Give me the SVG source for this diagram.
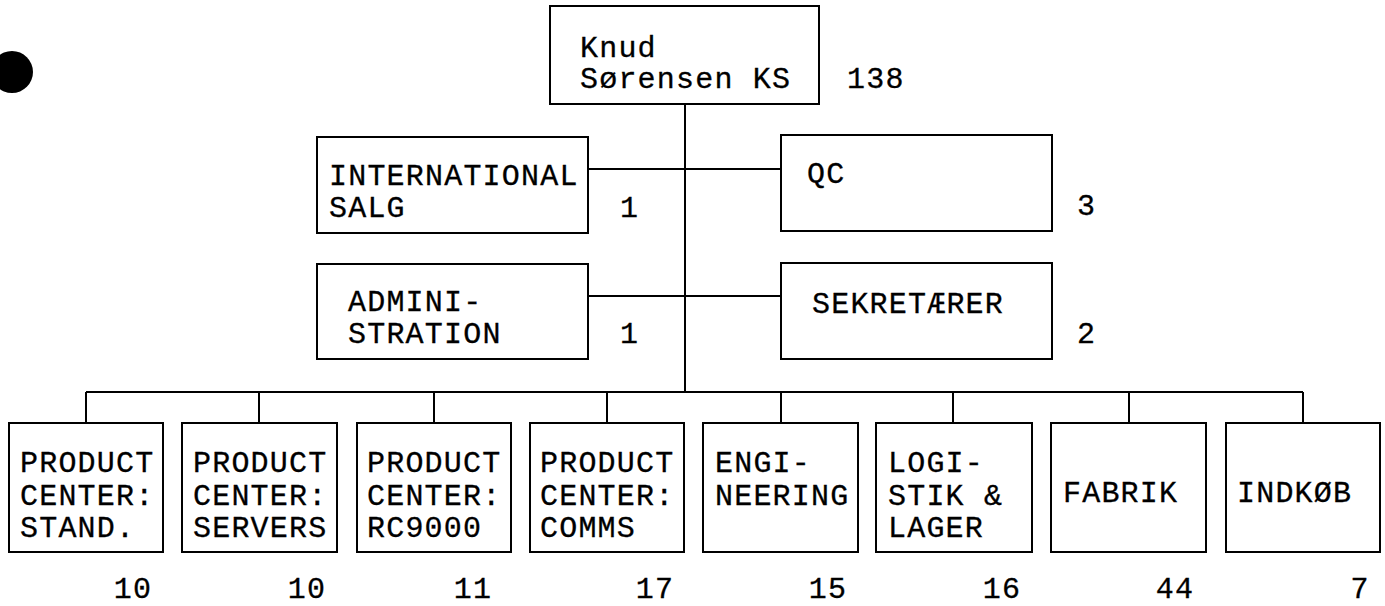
<svg xmlns="http://www.w3.org/2000/svg" width="1385" height="606" viewBox="0 0 1385 606">
<style>
.box{fill:#fff;stroke:#000;stroke-width:2}
.t{font-family:"Liberation Mono","Courier New",monospace;font-size:30px;letter-spacing:1.2px;fill:#000;stroke:#000;stroke-width:0.3}
.n{text-anchor:middle}
.c{fill:none;stroke:#000;stroke-width:2}
</style>
<rect width="1385" height="606" fill="#fff"/>
<circle cx="12" cy="72" r="21" fill="#000"/>
<g id="connectors">
<path class="c" d="M685 104V392M588 169H781M588 296H781M86 392H1303M86 392V423M259 392V423M434 392V423M607 392V423M781 392V423M953 392V423M1129 392V423M1303 392V423"/>
</g>
<g id="knud"><rect class="box" x="550" y="6" width="269" height="98"/><text class="t" x="580" y="57">Knud</text><text class="t" x="580" y="88">Sørensen KS</text><text class="t" x="847" y="88">138</text></g>
<g id="intl"><rect class="box" x="317" y="137" width="271" height="96"/><text class="t" x="329" y="185">INTERNATIONAL</text><text class="t" x="329" y="217">SALG</text><text class="t" x="620" y="217">1</text></g>
<g id="qc"><rect class="box" x="781" y="135" width="271" height="96"/><text class="t" x="807" y="183">QC</text><text class="t" x="1077" y="215">3</text></g>
<g id="admin"><rect class="box" x="317" y="264" width="271" height="95"/><text class="t" x="348" y="311">ADMINI-</text><text class="t" x="348" y="343">STRATION</text><text class="t" x="620" y="343">1</text></g>
<g id="sekr"><rect class="box" x="781" y="263" width="271" height="96"/><text class="t" x="812" y="313">SEKRETÆRER</text><text class="t" x="1077" y="343">2</text></g>
<g id="pc-stand"><rect class="box" x="9" y="423" width="154" height="129"/><text class="t" x="20" y="472">PRODUCT</text><text class="t" x="20" y="505">CENTER:</text><text class="t" x="20" y="537">STAND.</text><text class="t n" x="133" y="598">10</text></g>
<g id="pc-servers"><rect class="box" x="182" y="423" width="155" height="129"/><text class="t" x="193" y="472">PRODUCT</text><text class="t" x="193" y="505">CENTER:</text><text class="t" x="193" y="537">SERVERS</text><text class="t n" x="307" y="598">10</text></g>
<g id="pc-rc9000"><rect class="box" x="357" y="423" width="154" height="129"/><text class="t" x="367" y="472">PRODUCT</text><text class="t" x="367" y="505">CENTER:</text><text class="t" x="367" y="537">RC9000</text><text class="t n" x="473" y="598">11</text></g>
<g id="pc-comms"><rect class="box" x="530" y="423" width="154" height="129"/><text class="t" x="540" y="472">PRODUCT</text><text class="t" x="540" y="505">CENTER:</text><text class="t" x="540" y="537">COMMS</text><text class="t n" x="655" y="598">17</text></g>
<g id="engineering"><rect class="box" x="703" y="423" width="155" height="129"/><text class="t" x="715" y="472">ENGI-</text><text class="t" x="715" y="505">NEERING</text><text class="t n" x="828" y="598">15</text></g>
<g id="logistik"><rect class="box" x="876" y="423" width="156" height="129"/><text class="t" x="888" y="472">LOGI-</text><text class="t" x="888" y="505">STIK &amp;</text><text class="t" x="888" y="537">LAGER</text><text class="t n" x="1002" y="598">16</text></g>
<g id="fabrik"><rect class="box" x="1051" y="423" width="155" height="129"/><text class="t" x="1063" y="502">FABRIK</text><text class="t n" x="1175" y="598">44</text></g>
<g id="indkob"><rect class="box" x="1226" y="423" width="154" height="129"/><text class="t" x="1237" y="502">INDKØB</text><text class="t n" x="1360" y="598">7</text></g>
</svg>
